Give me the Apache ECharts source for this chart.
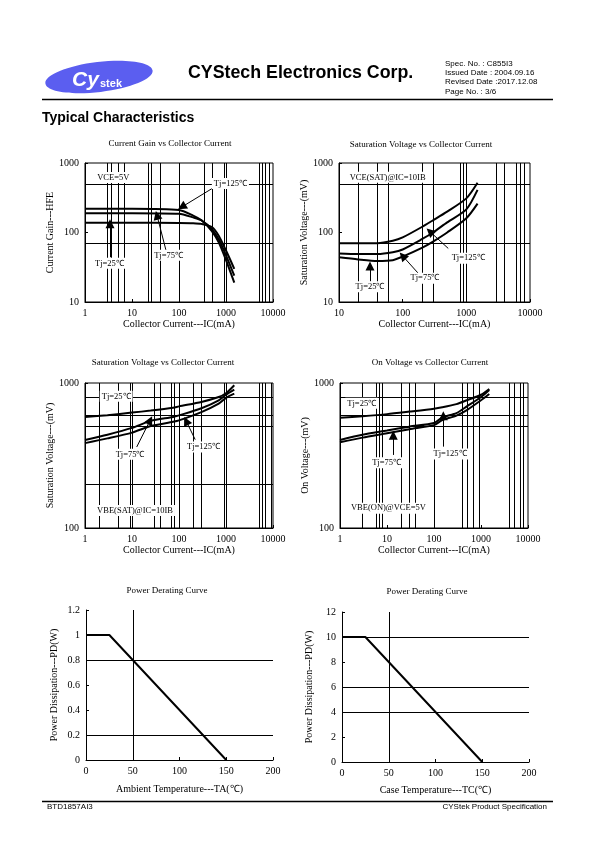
<!DOCTYPE html>
<html><head><meta charset="utf-8">
<script src="https://cdn.jsdelivr.net/npm/echarts/dist/echarts.min.js"></script>
<style>html,body{margin:0;padding:0;background:#fff}#c{width:595px;height:842px}</style>
</head><body><div id="c"></div>
<script>
// ---------- data ----------
// Chart 1: Current Gain vs Collector Current
const icGain = [1, 10, 100, 200, 300, 500, 700, 1000, 1500];
const hfe25  = [138, 138, 137, 136, 133, 120, 90, 55, 30];
const hfe75  = [190, 190, 186, 165, 150, 112, 80, 47, 24];
const hfe125 = [220, 220, 210, 175, 150, 105, 72, 40, 19];
// Chart 2: VCE(sat) vs IC
const icVce  = [10, 20, 40, 70, 100, 200, 300, 500, 1000, 1500];
const vce25  = [44, 41, 39, 40, 45, 60, 74, 100, 160, 260];
const vce75  = [50, 49, 49, 52, 57, 80, 100, 140, 215, 410];
const vce125 = [70, 70, 70, 76, 85, 120, 150, 200, 310, 520];
// Chart 3: VBE(sat) vs IC
const icVbe  = [1, 3, 10, 25, 75, 100, 300, 700, 1000, 1500];
const vbe25  = [583, 600, 625, 645, 675, 690, 740, 800, 850, 965];
const vbe75  = [405, 440, 490, 548, 583, 598, 670, 760, 830, 900];
const vbe125 = [385, 415, 455, 505, 540, 552, 630, 720, 790, 845];
// Chart 4: VBE(on) vs IC
const icVon  = [1, 3, 10, 30, 100, 150, 300, 500, 1000, 1500];
const von25  = [575, 590, 610, 635, 665, 680, 715, 760, 830, 910];
const von75  = [405, 440, 470, 500, 530, 580, 620, 690, 800, 895];
const von125 = [390, 420, 450, 480, 512, 555, 595, 650, 760, 840];
// Chart 5/6: power derating
const tempA = [0, 25, 150];
const pdA   = [1, 1, 0];
const tempC = [0, 25, 150];
const pdC   = [10, 10, 0];

// gridlines drawn in the original sheet
const grid1X = [3, 3.7, 5, 7, 22, 26, 40, 100, 350, 500, 900, 1000, 5000, 6000, 7000, 8500];
const grid1Y = [500, 70];
const grid2X = [20, 40, 60, 200, 300, 800, 900, 1000, 3000, 4000, 6000, 7000, 8000];
const grid2Y = [500, 70];
const grid3X = [2, 5, 9, 10, 30, 40, 70, 80, 100, 200, 300, 900, 1000, 5000, 6000, 7000, 9000];
const grid3Y = [800, 600, 500, 200];
const grid4X = [3, 6, 7, 8, 20, 30, 40, 100, 400, 500, 700, 900, 4000, 5000, 7000, 8000];
const grid4Y = [800, 600, 500];
const grid5X = [50];
const grid5Y = [0.8, 0.2];
const grid6X = [50];
const grid6Y = [10, 6, 4];

// annotations: [text, x, y]
const notes1 = [['VCE=5V', 4.0, 617], ['Tj=125℃', 1240, 506], ['Tj=75℃', 60, 47], ['Tj=25℃', 3.3, 36]];
const arrows1 = [[[502, 428], [115, 233]], [[53, 55], [34, 177]], [[3.4, 44], [3.4, 134]]];
const notes2 = [['VCE(SAT)@IC=10IB', 58, 622], ['Tj=125℃', 1070, 42.6], ['Tj=75℃', 224, 22], ['Tj=25℃', 30.7, 16.6]];
const arrows2 = [[[520, 59], [268, 103]], [[186, 24.4], [100, 46]], [[30.7, 19.6], [30.7, 33]]];
const notes3 = [['Tj=25℃', 4.6, 809], ['Tj=75℃', 9.1, 322], ['Tj=125℃', 333, 362], ['VBE(SAT)@IC=10IB', 11.6, 132]];
const arrows3 = [[[12.6, 362], [24.3, 553]], [[221, 407], [142, 547]]];
const notes4 = [['Tj=25℃', 2.9, 724], ['Tj=75℃', 9.8, 282], ['Tj=125℃', 219, 324], ['VBE(ON)@VCE=5V', 10.7, 137]];
const arrows4 = [[[13.6, 319], [13.6, 437]], [[158, 364], [158, 595]]];

// ---------- chart ----------
const SERIF = '"Liberation Serif","Times New Roman",serif';
const SANS = '"Liberation Sans",Arial,sans-serif';
const FS = 10;
const txt = {color: '#000', fontFamily: SERIF, fontSize: FS};

const grids = [
  {left: 85, top: 163, width: 188, height: 139, show: true, borderColor: '#000', borderWidth: 1},
  {left: 339, top: 163, width: 191, height: 139, show: true, borderColor: '#000', borderWidth: 1},
  {left: 85, top: 383, width: 188, height: 145, show: true, borderColor: '#000', borderWidth: 1},
  {left: 340, top: 383, width: 188, height: 145, show: true, borderColor: '#000', borderWidth: 1},
  {left: 86, top: 610, width: 187, height: 150},
  {left: 342, top: 612, width: 187, height: 150}
];

function axisBase(i, name, gap) {
  return {
    gridIndex: i, name: name, nameLocation: 'middle', nameGap: gap,
    nameTextStyle: txt,
    axisLine: {show: true, lineStyle: {color: '#000', width: 1}},
    axisTick: {show: true, inside: true, length: 3, lineStyle: {color: '#000'}},
    axisLabel: Object.assign({margin: 6}, txt),
    splitLine: {show: false}, minorTick: {show: false}, minorSplitLine: {show: false}
  };
}
function logAxis(i, min, max, name, gap) {
  const a = axisBase(i, name, gap);
  a.type = 'log'; a.logBase = 10; a.min = min; a.max = max;
  a.axisLabel.formatter = v => String(Math.round(v));
  return a;
}
function valAxis(i, min, max, interval, name, gap) {
  const a = axisBase(i, name, gap);
  a.type = 'value'; a.min = min; a.max = max; a.interval = interval;
  a.axisLabel.formatter = v => String(parseFloat(v.toFixed(2)));
  return a;
}

const xAxes = [
  logAxis(0, 1, 10000, 'Collector Current---IC(mA)', 16),
  logAxis(1, 10, 10000, 'Collector Current---IC(mA)', 16),
  logAxis(2, 1, 10000, 'Collector Current---IC(mA)', 16),
  logAxis(3, 1, 10000, 'Collector Current---IC(mA)', 16),
  valAxis(4, 0, 200, 50, 'Ambient Temperature---TA(℃)', 24),
  valAxis(5, 0, 200, 50, 'Case Temperature---TC(℃)', 23)
];
const yAxes = [
  logAxis(0, 10, 1000, 'Current Gain---HFE', 27),
  logAxis(1, 10, 1000, 'Saturation Voltage---(mV)', 24),
  logAxis(2, 100, 1000, 'Saturation Voltage---(mV)', 30),
  logAxis(3, 100, 1000, 'On Voltage---(mV)', 25),
  valAxis(4, 0, 1.2, 0.2, 'Power Dissipation---PD(W)', 27),
  valAxis(5, 0, 12, 2, 'Power Dissipation---PD(W)', 28)
];

function curve(i, xs, ys) {
  return {type: 'line', xAxisIndex: i, yAxisIndex: i, data: xs.map((x, k) => [x, ys[k]]),
    showSymbol: false, symbol: 'none', smooth: 0.25,
    lineStyle: {color: '#000', width: 2}, z: 3, silent: true};
}
function straight(i, xs, ys) {
  const s = curve(i, xs, ys); s.smooth = false; return s;
}
function gridLines(i, gx, gy) {
  return {type: 'line', xAxisIndex: i, yAxisIndex: i, data: [], z: 1, silent: true,
    markLine: {silent: true, symbol: 'none', animation: false, label: {show: false},
      lineStyle: {color: '#000', width: 1, type: 'solid'},
      data: gx.map(v => ({xAxis: v})).concat(gy.map(v => ({yAxis: v})))}};
}
function notes(i, labels, arrows) {
  return {type: 'line', xAxisIndex: i, yAxisIndex: i, data: [], z: 5, silent: true,
    markLine: {silent: true, animation: false, symbol: ['none', 'triangle'], symbolSize: 9,
      label: {show: false}, itemStyle: {color: '#000'},
      lineStyle: {color: '#000', width: 1, type: 'solid'},
      data: arrows.map(a => [{coord: a[0], symbol: 'none'}, {coord: a[1], symbol: 'triangle', symbolSize: 9}])},
    markPoint: {silent: true, animation: false, symbol: 'rect', symbolSize: 1,
      itemStyle: {color: 'rgba(0,0,0,0)'},
      label: {show: true, position: 'inside', formatter: p => p.name, color: '#000',
        backgroundColor: '#fff', padding: [1, 2], fontFamily: SERIF, fontSize: 8.5},
      data: labels.map(l => ({name: l[0], coord: [l[1], l[2]]}))}};
}

const series = [
  gridLines(0, grid1X, grid1Y), curve(0, icGain, hfe25), curve(0, icGain, hfe75), curve(0, icGain, hfe125), notes(0, notes1, arrows1),
  gridLines(1, grid2X, grid2Y), curve(1, icVce, vce25), curve(1, icVce, vce75), curve(1, icVce, vce125), notes(1, notes2, arrows2),
  gridLines(2, grid3X, grid3Y), curve(2, icVbe, vbe25), curve(2, icVbe, vbe75), curve(2, icVbe, vbe125), notes(2, notes3, arrows3),
  gridLines(3, grid4X, grid4Y), curve(3, icVon, von25), curve(3, icVon, von75), curve(3, icVon, von125), notes(3, notes4, arrows4),
  gridLines(4, grid5X, grid5Y), straight(4, tempA, pdA),
  gridLines(5, grid6X, grid6Y), straight(5, tempC, pdC)
];

function title(text, cx, top) {
  return {text: text, left: cx, top: top, textAlign: 'center', padding: 0,
    textStyle: {color: '#000', fontFamily: SERIF, fontSize: 9, fontWeight: 'normal'}};
}
const titles = [
  title('Current Gain vs Collector Current', 170, 139),
  title('Saturation Voltage vs Collector Current', 421, 140),
  title('Saturation Voltage vs Collector Current', 163, 358),
  title('On Voltage vs Collector Current', 430, 358),
  title('Power Derating Curve', 167, 586),
  title('Power Derating Curve', 427, 587)
];

const graphic = [
  {type: 'ellipse', x: 99, y: 77, rotation: 0.12, shape: {cx: 0, cy: 0, rx: 54, ry: 15}, style: {fill: '#5b5ef0'}},
  {type: 'text', x: 72, y: 80, style: {text: 'Cy', fill: '#fff', font: 'italic bold 21px ' + SANS, textVerticalAlign: 'middle'}},
  {type: 'text', x: 100, y: 84, style: {text: 'stek', fill: '#fff', font: 'bold 11px ' + SANS, textVerticalAlign: 'middle'}},
  {type: 'text', x: 188, y: 73, style: {text: 'CYStech Electronics Corp.', fill: '#000', font: 'bold 17.8px ' + SANS, textVerticalAlign: 'middle'}},
  {type: 'text', x: 445, y: 63.5, style: {text: 'Spec. No. : C855I3', fill: '#000', font: '8px ' + SANS, textVerticalAlign: 'middle'}},
  {type: 'text', x: 445, y: 72.8, style: {text: 'Issued Date : 2004.09.16', fill: '#000', font: '8px ' + SANS, textVerticalAlign: 'middle'}},
  {type: 'text', x: 445, y: 82.1, style: {text: 'Revised Date :2017.12.08', fill: '#000', font: '8px ' + SANS, textVerticalAlign: 'middle'}},
  {type: 'text', x: 445, y: 91.4, style: {text: 'Page No. : 3/6', fill: '#000', font: '8px ' + SANS, textVerticalAlign: 'middle'}},
  {type: 'line', shape: {x1: 42, y1: 99.5, x2: 553, y2: 99.5}, style: {stroke: '#000', lineWidth: 1.5}},
  {type: 'text', x: 42, y: 118, style: {text: 'Typical Characteristics', fill: '#000', font: 'bold 14px ' + SANS, textVerticalAlign: 'middle'}},
  {type: 'line', shape: {x1: 42, y1: 801.5, x2: 553, y2: 801.5}, style: {stroke: '#000', lineWidth: 1.5}},
  {type: 'text', x: 47, y: 807, style: {text: 'BTD1857AI3', fill: '#000', font: '8px ' + SANS, textVerticalAlign: 'middle'}},
  {type: 'text', x: 547, y: 807, style: {text: 'CYStek Product Specification', fill: '#000', font: '8px ' + SANS, textVerticalAlign: 'middle', textAlign: 'right'}}
];

const chart = echarts.init(document.getElementById('c'), null, {renderer: 'canvas', width: 595, height: 842});
chart.setOption({
  animation: false,
  backgroundColor: '#fff',
  title: titles,
  grid: grids,
  xAxis: xAxes,
  yAxis: yAxes,
  series: series,
  graphic: graphic
});
</script>
</body></html>
